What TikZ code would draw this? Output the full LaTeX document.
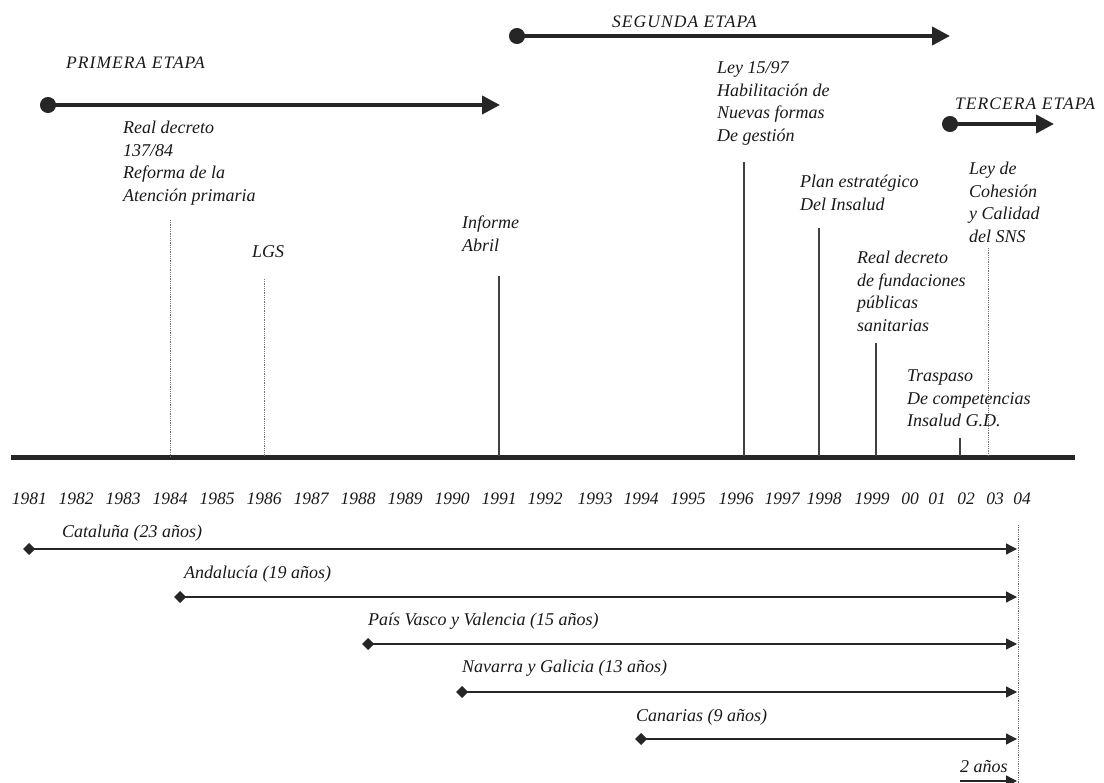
\documentclass[tikz,border=0pt]{standalone}
\usepackage{fontspec}
\setmainfont{Liberation Serif}
\newfontfamily\etapafont[LetterSpace=6]{Liberation Serif}
\usetikzlibrary{arrows.meta}
\tikzset{
  lbl/.style={font=\itshape\fontsize{18}{22.5}\selectfont, inner sep=0pt, align=left, anchor=base west, text=black!90},
  etl/.style={font=\etapafont\itshape\fontsize{17.5}{22.5}\selectfont, inner sep=0pt, anchor=base west, text=black!90},
  yr/.style={font=\itshape\fontsize{17.5}{22.5}\selectfont, inner sep=0pt, anchor=base, text=black!90},
  etapa/.style={line width=4pt, black!85, {Circle[length=16pt]}-{Triangle[length=18pt,width=18pt]}},
  bar/.style={line width=1.3pt, black!85, {Diamond[length=12pt,width=12pt]}-{Triangle[length=11pt,width=11pt]}},
  evsolid/.style={line width=1.1pt, black!75},
  evdot/.style={line width=0.8pt, black!55, densely dotted},
  axis/.style={line width=5pt, black!85}
}
\begin{document}
\begin{tikzpicture}[x=1pt,y=-1pt]
\useasboundingbox (0,0) rectangle (1104,783);

% stage arrows
\coordinate (p1s) at (40,105); \coordinate (p1e) at (500,105);
\draw[etapa] (p1s) -- (p1e);
\node[etl] (p1) at (66,69) {PRIMERA ETAPA};
\coordinate (p2s) at (509,36); \coordinate (p2e) at (950,36);
\draw[etapa] (p2s) -- (p2e);
\node[etl] (p2) at (612,28) {SEGUNDA ETAPA};
\coordinate (p3s) at (942,124); \coordinate (p3e) at (1054,124);
\draw[etapa] (p3s) -- (p3e);
\node[etl] (p3) at (955,110) {TERCERA ETAPA};

% main axis
\coordinate (ax1) at (11,458); \coordinate (ax2) at (1075,458);
\draw[axis] (ax1) -- (ax2);

% event lines
\foreach \n/\x/\t/\s in {e84/170/220/evdot, e86/264/279/evdot, e91/499/276/evsolid, e96/744/162/evsolid, e98/819/228/evsolid, e99/876/343/evsolid, e02/960/438/evsolid, e03/988/248/evdot}{
  \coordinate (\n t) at (\x,\t);
  \coordinate (\n b) at (\x,456);
  \draw[\s] (\n t) -- (\n b);
}

% event labels (anchored at the baseline of the last line)
\node[lbl] (t84) at (123,201.5) {Real decreto\\137/84\\Reforma de la\\Atención primaria};
\node[lbl] (t86) at (252,258) {LGS};
\node[lbl] (t91) at (462,251.5) {Informe\\Abril};
\node[lbl] (t96) at (717,141.5) {Ley 15/97\\Habilitación de\\Nuevas formas\\De gestión};
\node[lbl] (t98) at (800,210.5) {Plan estratégico\\Del Insalud};
\node[lbl] (t03) at (969,242.5) {Ley de\\Cohesión\\y Calidad\\del SNS};
\node[lbl] (t99) at (857,331.5) {Real decreto\\de fundaciones\\públicas\\sanitarias};
\node[lbl] (t02) at (907,427) {Traspaso\\De competencias\\Insalud G.D.};

% years
\foreach \x/\y in {29.5/1981, 76/1982, 123/1983, 170/1984, 217/1985, 264/1986, 311/1987, 358/1988, 405/1989, 452/1990, 499/1991, 545/1992, 595/1993, 641/1994, 688/1995, 736/1996, 782/1997, 824/1998, 872/1999, 910/00, 937/01, 966/02, 995/03, 1022/04}{
  \node[yr] (y\y) at (\x,505) {\y};
}

% end line
\coordinate (endt) at (1018,525); \coordinate (endb) at (1018,783);
\draw[evdot] (endt) -- (endb);

% community bars
\foreach \n/\x/\y/\lx/\ly/\txt in {
  cat/29/549/62/538/{Cataluña (23 años)},
  and/180/597/184/578/{Andalucía (19 años)},
  pvv/368/644/368/625/{País Vasco y Valencia (15 años)},
  nag/462/692/462/672/{Navarra y Galicia (13 años)},
  can/641/739/636/721/{Canarias (9 años)}}{
  \coordinate (\n s) at ({\x-6},\y);
  \coordinate (\n e) at (1017,\y);
  \draw[bar] (\n s) -- (\n e);
  \node[lbl] (\n l) at (\lx,\ly) {\txt};
}

% 2 años
\node[lbl] (dos) at (960,772) {2 años};
\coordinate (dss) at (960,781); \coordinate (dse) at (1017,781);
\draw[line width=1.3pt, black!85, -{Triangle[length=11pt,width=11pt]}] (dss) -- (dse);
\end{tikzpicture}
\end{document}
